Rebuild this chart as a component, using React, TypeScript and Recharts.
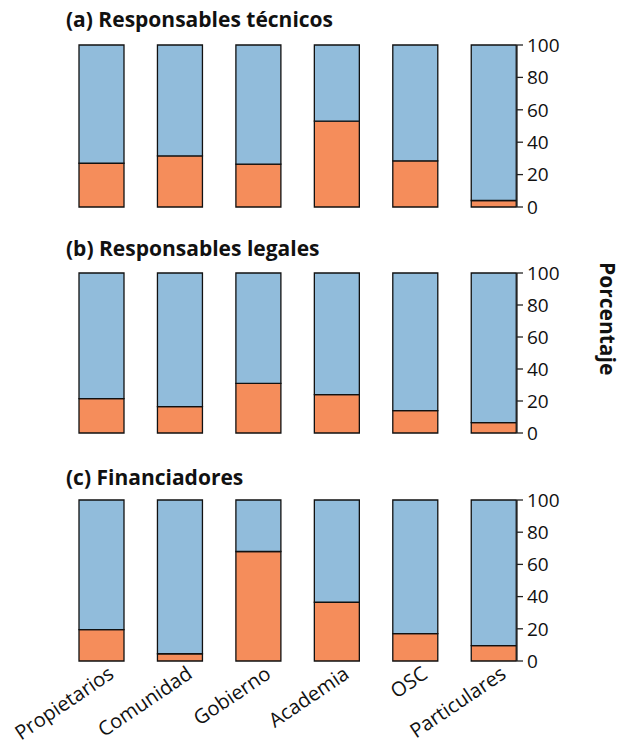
import { Bar, BarChart, XAxis, YAxis } from "recharts";

const categories = ["Propietarios", "Comunidad", "Gobierno", "Academia", "OSC", "Particulares"];
const yTicks = [0, 20, 40, 60, 80, 100];

// porcentaje en naranja (parte baja) por panel
const tecnicos = [27, 31.5, 26.5, 53, 28.5, 4];
const legales = [21.5, 16.5, 31, 24, 14, 6.5];
const financiadores = [19.5, 4.5, 68, 36.5, 17, 9.5];

const BLUE = "#91bcdb";
const ORANGE = "#f58d5b";
const FONT = "'Open Sans', 'Noto Sans', sans-serif";

function toRows(values: number[]) {
  return categories.map((name, i) => ({
    idx: i,
    name,
    naranja: values[i],
    azul: 100 - values[i],
  }));
}

function CategoryTick({ x, y, payload }: any) {
  return (
    <g transform={`translate(${x + 14},${y + 8})`}>
      <text
        x={0}
        y={0}
        textAnchor="end"
        transform="rotate(-34)"
        fontSize={20}
        fontFamily={FONT}
        fill="#111"
      >
        {categories[payload.value]}
      </text>
    </g>
  );
}

interface PanelProps {
  title: string;
  values: number[];
  top: number;
  height: number;
  titleTop: number;
  showX?: boolean;
}

function Panel({ title, values, top, height, titleTop, showX = false }: PanelProps) {
  return (
    <div style={{ position: "absolute", left: 0, top, width: 622, height }}>
      <BarChart
        width={622}
        height={height}
        data={toRows(values)}
        margin={{ top: 15, right: 40, bottom: showX ? 0 : 15, left: 62 }}
      >
        <XAxis
          dataKey="idx"
          type="number"
          domain={[-0.5, 5.3]}
          ticks={[0, 1, 2, 3, 4, 5]}
          hide={!showX}
          height={showX ? 90 : 0}
          axisLine={false}
          tickLine={false}
          tick={<CategoryTick />}
          interval={0}
        />
        <YAxis
          orientation="right"
          domain={[0, 100]}
          ticks={yTicks}
          width={65}
          stroke="#222"
          strokeWidth={1.3}
          tickSize={6}
          tickMargin={4}
          tick={{ fontSize: 19, fontFamily: FONT, fill: "#111" }}
        />
        <Bar dataKey="naranja" stackId="s" fill={ORANGE} stroke="#111" strokeWidth={1.3} barSize={45} isAnimationActive={false} />
        <Bar dataKey="azul" stackId="s" fill={BLUE} stroke="#111" strokeWidth={1.3} barSize={45} isAnimationActive={false} />
      </BarChart>
      <div
        style={{
          position: "absolute",
          left: 66,
          top: titleTop,
          fontFamily: FONT,
          fontWeight: 700,
          fontSize: 21,
          lineHeight: "28px",
          color: "#111",
          whiteSpace: "nowrap",
        }}
      >
        {title}
      </div>
    </div>
  );
}

export default function App() {
  return (
    <div style={{ position: "absolute", left: 0, top: 0, width: 622, height: 751, background: "#fff" }}>
      <Panel title="(a) Responsables técnicos" values={tecnicos} top={30} height={192} titleTop={-25} />
      <Panel title="(b) Responsables legales" values={legales} top={258} height={190} titleTop={-24} />
      <Panel title="(c) Financiadores" values={financiadores} top={485} height={266} titleTop={-22} showX />
      <div
        style={{
          position: "absolute",
          left: 596,
          top: 262,
          fontFamily: FONT,
          fontWeight: 700,
          fontSize: 21,
          lineHeight: "28px",
          color: "#111",
          whiteSpace: "nowrap",
          transformOrigin: "0 0",
          transform: "rotate(90deg) translate(0, -26px)",
        }}
      >
        Porcentaje
      </div>
    </div>
  );
}
